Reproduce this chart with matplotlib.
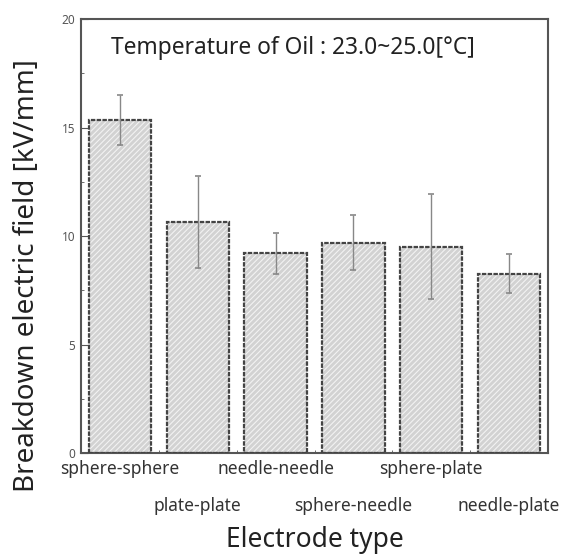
import matplotlib.pyplot as plt
from matplotlib.ticker import MultipleLocator, FixedLocator

# Dati
electrode = ['sphere-sphere', 'plate-plate', 'needle-needle',
             'sphere-needle', 'sphere-plate', 'needle-plate']
breakdown = [15.35, 10.65, 9.2, 9.7, 9.5, 8.27]
errore = [1.16, 2.12, 0.93, 1.27, 2.42, 0.9]

plt.rcParams['font.family'] = ['Noto Sans', 'DejaVu Sans']
plt.rcParams['hatch.linewidth'] = 0.8

fig = plt.figure(figsize=(5.65, 5.54), dpi=100)
ax = fig.add_axes([0.1434, 0.1823, 0.8266, 0.7834])

x = list(range(len(electrode)))
# riempimento tratteggiato
ax.bar(x, breakdown, width=0.8, color='#d2d2d2', hatch='//////',
       edgecolor='#f2f2f2', linewidth=0, zorder=2)
# bordo scuro
ax.bar(x, breakdown, width=0.8, color='none', edgecolor='#444444',
       linewidth=1.6, linestyle=(0, (2, 0.6)), zorder=3)
ax.errorbar(x, breakdown, yerr=errore, fmt='none', ecolor='#888888',
            elinewidth=1.0, capsize=2.5, capthick=1.2, zorder=4)

ax.set_xlim(-0.5, len(electrode) - 0.5)
ax.set_ylim(0, 20)
ax.yaxis.set_major_locator(MultipleLocator(5))
ax.yaxis.set_minor_locator(MultipleLocator(2.5))
ax.xaxis.set_minor_locator(FixedLocator([i + 0.5 for i in range(len(electrode) - 1)]))

ax.set_xticks(x)
ax.set_xticklabels(electrode, fontsize=12.5, color='#333333')

ax.tick_params(axis='both', which='both', direction='in', color='#555555')
ax.tick_params(axis='x', which='major', length=4, pad=5)
ax.tick_params(axis='x', which='minor', length=2)
ax.tick_params(axis='y', which='major', length=5, labelsize=8.5, labelcolor='#555555', pad=4)
ax.tick_params(axis='y', which='minor', length=2.5)

# etichette sfalsate su due righe
for i, tick in enumerate(ax.xaxis.get_major_ticks()):
    if i % 2 == 1:
        tick.set_pad(32)

for lato in ax.spines.values():
    lato.set_color('#555555')
    lato.set_linewidth(1.5)

ax.set_xlabel('Electrode type', fontsize=19, color='#222222')
ax.xaxis.set_label_coords(0.5, -0.168)
ax.set_ylabel('Breakdown electric field [kV/mm]', fontsize=20, color='#222222')
ax.yaxis.set_label_coords(-0.085, 0.41)
ax.text(0.454, 0.933, 'Temperature of Oil : 23.0~25.0[°C]', transform=ax.transAxes,
        ha='center', va='center', fontsize=16.4, color='#222222')

fig.savefig('out.png', dpi=100)
